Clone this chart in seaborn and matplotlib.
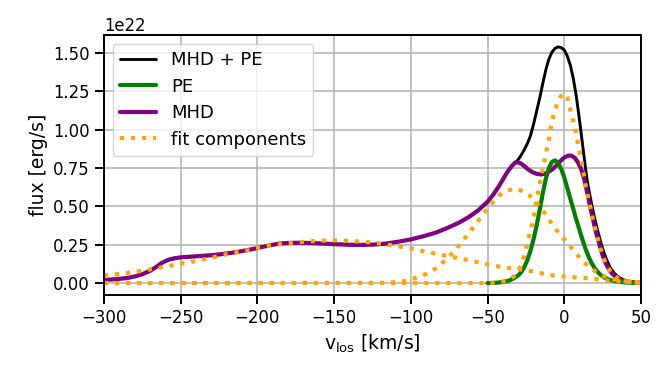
import matplotlib
matplotlib.use("Agg")
import numpy as np
import matplotlib.pyplot as plt
import seaborn as sns

# --- Data (flux in units of 1e22 erg/s) ---
v_mhd = [-300, -292, -285, -280, -275, -270, -266, -262, -258, -254, -250, -244, -237, -230,
         -224, -217, -211, -204, -198, -192, -186, -180, -172, -164, -156, -148, -140, -132,
         -124, -116, -108, -100, -92, -84, -76, -68, -62, -56, -50, -46, -43, -40, -37, -34,
         -32, -30, -28, -26, -24, -21, -18, -15, -12, -9, -7, -5, -3, -1, 1, 3, 5, 7, 9, 11,
         13, 15, 17, 19, 21, 23, 25, 27, 29, 31, 33, 35, 40, 45, 50]
f_mhd = [0.02, 0.026, 0.033, 0.043, 0.058, 0.08, 0.105, 0.133, 0.152, 0.162, 0.168, 0.172, 0.177, 0.182,
         0.188, 0.197, 0.207, 0.22, 0.233, 0.246, 0.257, 0.262, 0.263, 0.261, 0.257, 0.253, 0.25, 0.249,
         0.251, 0.258, 0.27, 0.285, 0.305, 0.328, 0.36, 0.397, 0.432, 0.475, 0.53, 0.58, 0.625, 0.675, 0.725, 0.765,
         0.785, 0.787, 0.778, 0.763, 0.745, 0.725, 0.712, 0.708, 0.715, 0.732, 0.748, 0.768, 0.79, 0.81, 0.824, 0.832, 0.83, 0.815, 0.787, 0.745,
         0.68, 0.59, 0.495, 0.405, 0.322, 0.25, 0.182, 0.13, 0.092, 0.065, 0.045, 0.032, 0.012, 0.005, 0.002]

v_pe = [-50, -45, -40, -36, -33, -30, -28, -26, -24, -22, -20, -18, -16, -14, -12, -10, -8, -6,
        -4, -2, 0, 2, 4, 6, 8, 10, 12, 14, 16, 18, 20, 23, 26, 30, 35, 40, 50]
f_pe = [0.0, 0.002, 0.007, 0.016, 0.03, 0.05, 0.072, 0.105, 0.15, 0.21, 0.285, 0.375, 0.475, 0.585, 0.68, 0.75, 0.79, 0.8,
        0.785, 0.745, 0.69, 0.62, 0.55, 0.48, 0.41, 0.345, 0.28, 0.22, 0.17, 0.128, 0.095, 0.06, 0.037, 0.02, 0.009, 0.004, 0.0]

v_tot = [-300, -292, -285, -280, -275, -270, -266, -262, -258, -254, -250, -244, -237, -230,
         -224, -217, -211, -204, -198, -192, -186, -180, -172, -164, -156, -148, -140, -132,
         -124, -116, -108, -100, -92, -84, -76, -68, -62, -56, -50, -46, -43, -40, -37, -34,
         -32, -30, -28, -26, -24, -22, -20, -18, -16, -14, -12, -10, -8, -6, -4, -2, 0, 2, 4,
         6, 8, 10, 12, 13, 14, 15, 16, 18, 20, 22, 24, 26, 28, 30, 33, 36, 40, 45, 50]
f_tot = [0.02, 0.026, 0.033, 0.043, 0.058, 0.08, 0.105, 0.133, 0.152, 0.162, 0.168, 0.172, 0.177, 0.182,
         0.188, 0.197, 0.207, 0.22, 0.233, 0.246, 0.257, 0.262, 0.263, 0.261, 0.257, 0.253, 0.25, 0.249,
         0.251, 0.258, 0.27, 0.285, 0.305, 0.328, 0.36, 0.397, 0.432, 0.475, 0.53, 0.58, 0.625, 0.675, 0.725, 0.765,
         0.785, 0.805, 0.835, 0.87, 0.91, 0.96, 1.035, 1.12, 1.205, 1.3, 1.39, 1.46, 1.505, 1.53, 1.54, 1.535, 1.52, 1.48, 1.42,
         1.33, 1.21, 1.06, 0.9, 0.82, 0.74, 0.67, 0.61, 0.51, 0.415, 0.335, 0.26, 0.195, 0.145, 0.1, 0.06, 0.035, 0.015, 0.006, 0.002]

# fit components: broad wing (A), intermediate (B), narrow core (C)
v_fit_a = [-300, -290, -283, -275, -268, -260, -253, -245, -237, -230, -222, -215, -207, -200,
           -192, -184, -176, -168, -160, -152, -144, -137, -129, -121, -114, -106, -98, -91,
           -83, -75, -68, -60, -53, -45, -37, -29, -21, -14, -6, 2, 9, 17, 25, 35, 50]
f_fit_a = [0.05, 0.06, 0.069, 0.08, 0.093, 0.107, 0.121, 0.135, 0.149, 0.166, 0.184, 0.198, 0.212, 0.228,
           0.245, 0.255, 0.264, 0.271, 0.275, 0.279, 0.277, 0.273, 0.268, 0.26, 0.249, 0.236, 0.221, 0.206,
           0.19, 0.175, 0.16, 0.145, 0.128, 0.112, 0.099, 0.089, 0.077, 0.062, 0.048, 0.041, 0.036, 0.03,
           0.021, 0.012, 0.004]

v_fit_b = [-300, -115, -105, -98, -90, -82, -77, -71, -66, -61, -57, -52, -47, -42, -37, -32,
           -27, -21, -16, -11.5, -7, -2, 3, 8, 13, 19, 25, 32, 38, 44, 50]
f_fit_b = [0.0, 0.002, 0.012, 0.03, 0.06, 0.105, 0.155, 0.215, 0.277, 0.34, 0.395, 0.46, 0.522, 0.575, 0.603, 0.615,
           0.6, 0.56, 0.5, 0.44, 0.37, 0.31, 0.25, 0.19, 0.135, 0.085, 0.047, 0.024, 0.013, 0.007, 0.003]

v_fit_c = [-300, -50, -45, -40, -36, -33, -29, -26, -24, -22.5, -20.5, -19, -18, -16.3, -14.7, -13.2,
           -11.7, -10, -8.8, -7.2, -5, -3, -2, -1, 0, 1, 2, 3.3, 5, 7, 8.6, 10.1, 12, 14, 16, 19, 22, 25, 28,
           31, 35, 40, 45, 50]
f_fit_c = [0.0, 0.0, 0.003, 0.01, 0.025, 0.042, 0.1, 0.18, 0.258, 0.32, 0.4, 0.475, 0.55, 0.625, 0.708, 0.781,
           0.856, 0.933, 1.008, 1.085, 1.158, 1.205, 1.222, 1.232, 1.235, 1.228, 1.21, 1.16, 1.09, 1.012, 0.929, 0.845, 0.755, 0.635,
           0.545, 0.405, 0.285, 0.182, 0.11, 0.065, 0.032, 0.012, 0.005, 0.002]

x_ticks = [-300, -250, -200, -150, -100, -50, 0, 50]
SCALE = 1e22

sns.set_style("ticks")
plt.rcParams.update({
    "axes.linewidth": 1.4,
    "xtick.major.size": 6.5, "ytick.major.size": 6.5,
    "xtick.major.width": 1.4, "ytick.major.width": 1.4,
    "xtick.labelsize": 11.9, "ytick.labelsize": 11.9,
    "axes.labelsize": 13.5,
    "legend.fontsize": 13.0,
    "axes.edgecolor": "black",
    "xtick.color": "black", "ytick.color": "black",
    "text.color": "black", "axes.labelcolor": "black",
})
plt.rcParams['font.family'] = ['DejaVu Sans']

fig, ax = plt.subplots(figsize=(6.56, 3.65), dpi=100)
fig.subplots_adjust(left=0.1585, right=0.977, top=0.904, bottom=0.192)

sns.lineplot(x=v_tot, y=np.array(f_tot) * SCALE, ax=ax, color="black", lw=2.1,
             label="MHD + PE", zorder=2.0)
sns.lineplot(x=v_pe, y=np.array(f_pe) * SCALE, ax=ax, color="green", lw=3.0,
             label="PE", zorder=2.2)
sns.lineplot(x=v_mhd, y=np.array(f_mhd) * SCALE, ax=ax, color="purple", lw=3.0,
             label="MHD", zorder=2.1)
for i, (vv, ff) in enumerate([(v_fit_a, f_fit_a), (v_fit_b, f_fit_b), (v_fit_c, f_fit_c)]):
    sns.lineplot(x=vv, y=np.array(ff) * SCALE, ax=ax, color="orange", lw=3.0,
                 linestyle=":", label="fit components" if i == 0 else "_nolegend_",
                 zorder=2.3)

ax.set_xlim(-300, 50)
ax.set_xticks(x_ticks)
ax.grid(True, color="#b0b0b0", linewidth=1.1)
ax.set_axisbelow(True)
ax.set_xlabel(r"v$_{\rm los}$ [km/s]")
ax.set_ylabel("flux [erg/s]")

handles, labels = ax.get_legend_handles_labels()
ax.legend(handles, labels, loc="upper left", frameon=True, framealpha=0.8,
          edgecolor="#cccccc", fancybox=True, labelspacing=0.47)

fig.savefig("out.png", dpi=100)
